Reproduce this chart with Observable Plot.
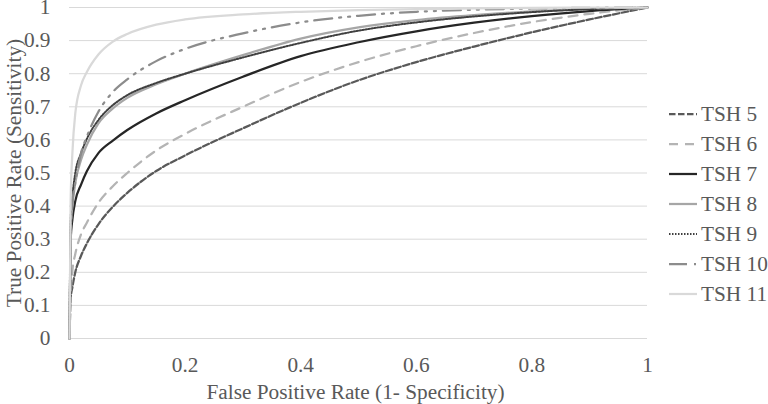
<!DOCTYPE html>
<html>
<head>
<meta charset="utf-8">
<script src="https://cdn.jsdelivr.net/npm/d3@7"></script>
<script src="https://cdn.jsdelivr.net/npm/@observablehq/plot@0.6"></script>
<style>
  body { margin: 0; background: #fff; }
  #wrap { position: relative; width: 768px; height: 404px; font-family: "Liberation Serif", "Times New Roman", serif; }
  #wrap svg, #wrap svg text { font-family: "Liberation Serif", "Times New Roman", serif !important; }
  #legend { position: absolute; left: 660px; top: 100px; }
</style>
</head>
<body>
<div id="wrap"><div id="chart"></div><svg id="legend" width="108" height="210"></svg></div>
<script>
// ---- data ----
const seriesNames = ["TSH 5", "TSH 6", "TSH 7", "TSH 8", "TSH 9", "TSH 10", "TSH 11"];
const fpr = [0, 0.002, 0.005, 0.01, 0.02, 0.03, 0.05, 0.075, 0.1, 0.15, 0.2, 0.3, 0.4, 0.5, 0.6, 0.7, 0.8, 0.9, 1];
const tsh5  = [0, 0.12, 0.155, 0.20, 0.25, 0.287, 0.345, 0.398, 0.44, 0.506, 0.553, 0.635, 0.712, 0.78, 0.835, 0.882, 0.925, 0.964, 1];
const tsh6  = [0, 0.13, 0.205, 0.255, 0.315, 0.35, 0.41, 0.46, 0.50, 0.568, 0.618, 0.70, 0.775, 0.835, 0.883, 0.923, 0.956, 0.981, 1];
const tsh7  = [0, 0.30, 0.36, 0.415, 0.465, 0.505, 0.56, 0.598, 0.63, 0.68, 0.72, 0.791, 0.853, 0.895, 0.928, 0.954, 0.974, 0.989, 1];
const tsh8  = [0, 0.33, 0.40, 0.47, 0.54, 0.585, 0.65, 0.695, 0.727, 0.768, 0.80, 0.856, 0.906, 0.94, 0.962, 0.977, 0.988, 0.996, 1];
const tsh9  = [0, 0.36, 0.43, 0.50, 0.56, 0.603, 0.66, 0.705, 0.735, 0.772, 0.80, 0.849, 0.893, 0.93, 0.955, 0.973, 0.986, 0.995, 1];
const tsh10 = [0, 0.30, 0.41, 0.47, 0.56, 0.61, 0.685, 0.745, 0.783, 0.838, 0.875, 0.922, 0.955, 0.975, 0.987, 0.993, 0.997, 0.999, 1];
const tsh11 = [0, 0.42, 0.56, 0.68, 0.765, 0.805, 0.858, 0.897, 0.92, 0.948, 0.964, 0.979, 0.987, 0.992, 0.995, 0.997, 0.999, 1, 1];
const seriesValues = [tsh5, tsh6, tsh7, tsh8, tsh9, tsh10, tsh11];

const xTicks = [0, 0.2, 0.4, 0.6, 0.8, 1];
const xTickLabels = ["0", "0.2", "0.4", "0.6", "0.8", "1"];
const yTicks = [0, 0.1, 0.2, 0.3, 0.4, 0.5, 0.6, 0.7, 0.8, 0.9, 1];
const yTickLabels = ["0", "0.1", "0.2", "0.3", "0.4", "0.5", "0.6", "0.7", "0.8", "0.9", "1"];
const xTitle = "False Positive Rate (1- Specificity)";
const yTitle = "True Positive Rate (Sensitivity)";

// ---- styles ----
const styles = [
  {stroke: "#595959", dash: "6.5 2.5", width: 2.25},
  {stroke: "#b4b4b4", dash: "9 7", width: 2.25},
  {stroke: "#262626", dash: null, width: 2.25},
  {stroke: "#a6a6a6", dash: null, width: 2.25},
  {stroke: "#404040", dash: "1.5 1.5", width: 2},
  {stroke: "#8c8c8c", dash: "18 7 2 7 2 7", width: 2.25},
  {stroke: "#d9d9d9", dash: null, width: 2.25}
];

const rows = seriesNames.map((name, i) => fpr.map((f, j) => ({series: name, fpr: f, tpr: seriesValues[i][j]})));

const textColor = "#595959";
const fs = 21.3;
const lineMarks = rows.map((data, i) => Plot.line(data, {
  x: "fpr", y: "tpr", curve: "monotone-x",
  stroke: styles[i].stroke, strokeWidth: styles[i].width,
  strokeDasharray: styles[i].dash ?? undefined
}));

const chart = Plot.plot({
  width: 768, height: 404,
  marginLeft: 69, marginRight: 121, marginTop: 7, marginBottom: 66,
  style: {fontFamily: "'Liberation Serif', 'Times New Roman', serif", fontSize: fs + "px", color: textColor, background: "white", overflow: "visible"},
  x: {domain: [0, 1]},
  y: {domain: [0, 1]},
  marks: [
    Plot.ruleY(yTicks, {stroke: "#d9d9d9", strokeWidth: 1}),
    Plot.axisX(xTicks, {tickSize: 0, tickPadding: 18, tickFormat: (d, i) => xTickLabels[i], fontSize: fs, fill: textColor, label: null}),
    Plot.axisY(yTicks, {tickSize: 0, tickPadding: 19, tickFormat: (d, i) => yTickLabels[i], fontSize: fs, fill: textColor, label: null}),
    ...lineMarks,
    Plot.text([xTitle], {frameAnchor: "bottom", textAnchor: "middle", lineAnchor: "middle", dx: -3, dy: 54, fontSize: fs, fill: textColor}),
    Plot.text([yTitle], {frameAnchor: "left", textAnchor: "middle", lineAnchor: "middle", rotate: -90, dx: -55, fontSize: fs, fill: textColor})
  ]
});
document.getElementById("chart").appendChild(chart);

// ---- legend ----
const leg = d3.select("#legend");
const g = leg.selectAll("g").data(seriesNames).join("g")
  .attr("transform", (d, i) => `translate(0, ${14 + i * 30})`);
g.append("line")
  .attr("x1", 9).attr("x2", 37).attr("y1", 0).attr("y2", 0)
  .attr("stroke", (d, i) => styles[i].stroke)
  .attr("stroke-width", (d, i) => styles[i].width)
  .attr("stroke-dasharray", (d, i) => styles[i].dash);
g.append("text")
  .attr("x", 41).attr("y", 0).attr("dy", "0.34em")
  .attr("fill", textColor)
  .style("font-size", fs + "px")
  .text(d => d);
</script>
</body>
</html>
